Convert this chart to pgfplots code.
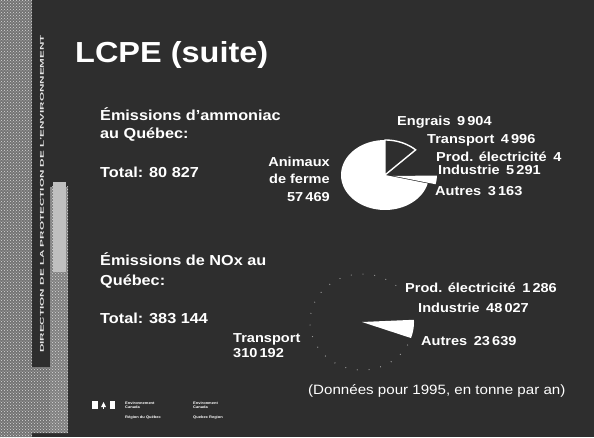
\documentclass[border=0pt]{standalone}
\usepackage{pgfplots}
\pgfplotsset{compat=1.18}
\usepackage{pgfplotstable}
\usepackage{fontspec}
\setmainfont{Liberation Sans}[FakeStretch=1.12]
\usetikzlibrary{patterns}
\definecolor{bg}{RGB}{46,46,46}

% Emissions d'ammoniac au Quebec (t/an, 1995)
\pgfplotstableread{
label value
Engrais 9904
Transport 4996
Prod 4
Industrie 5291
Autres 3163
Animaux 57469
}\ammoniac
% Emissions de NOx au Quebec (t/an, 1995)
\pgfplotstableread{
label value
Prod 1286
Industrie 48027
Autres 23639
Transport 310192
}\nox

% cumulative angles, clockwise from a start angle
\newcommand\computeangles[3]{%
  \xdef\tot{0}%
  \pgfplotstableforeachcolumnelement{value}\of#1\as\val{\xdef\tot{\fpeval{\tot+\val}}}%
  \xdef\cur{#2}%
  \pgfplotstableforeachcolumnelement{value}\of#1\as\val{%
    \xdef\nxt{\fpeval{round(\cur-360*\val/\tot,4)}}%
    \expandafter\xdef\csname #3s\pgfplotstablerow\endcsname{\cur}%
    \expandafter\xdef\csname #3e\pgfplotstablerow\endcsname{\nxt}%
    \xdef\cur{\nxt}}}
\computeangles{\ammoniac}{90}{A}
\computeangles{\nox}{49}{N}

% one wedge: prefix, row, style, explode
\newcommand\pieslice[4]{%
  \edef\sa{\csname #1s#2\endcsname}%
  \edef\se{\csname #1e#2\endcsname}%
  \edef\sm{\fpeval{(\sa+\se)/2}}%
  \edef\dx{\fpeval{round(#4*cosd(\sm),4)}}%
  \edef\dy{\fpeval{round(#4*sind(\sm),4)}}%
  \edef\temp{\noexpand\addplot[#3, domain=\se:\sa, samples=60]
    ({\dx+cos(x)},{\dy+sin(x)}) -- (axis cs:\dx,\dy) -- cycle;}%
  \temp}
\newcommand\piearc[3]{%
  \edef\sa{\csname #1s#2\endcsname}%
  \edef\se{\csname #1e#2\endcsname}%
  \edef\temp{\noexpand\addplot[#3, domain=\se:\sa, samples=80]
    ({cos(x)},{sin(x)});}%
  \temp}

\begin{document}
\begin{tikzpicture}
\fill[bg] (0pt,0pt) rectangle (594pt,437pt);
\useasboundingbox (0pt,0pt) rectangle (594pt,437pt);
% left textured strip
\fill[black!55] (0pt,0pt) rectangle (32pt,437pt);
\fill[pattern=crosshatch dots, pattern color=white!85!black] (0pt,0pt) rectangle (32pt,437pt);
\fill[black!55] (32pt,4pt) rectangle (50pt,70pt);
\fill[pattern=crosshatch dots, pattern color=white!85!black] (32pt,4pt) rectangle (50pt,70pt);
\fill[black!50] (50pt,4pt) rectangle (68pt,250pt);
\fill[pattern=crosshatch dots, pattern color=white!85!black] (50pt,4pt) rectangle (68pt,250pt);
\fill[white!75!black] (53pt,165pt) rectangle (66pt,255pt);
\node[rotate=90, inner sep=0pt, text=white!90!black] at (42pt,243pt)
  {\scalebox{1.9}[1]{\fontsize{5.5}{6}\selectfont\bfseries DIRECTION DE LA PROTECTION DE L'ENVIRONNEMENT}};

% title and texts
\node[anchor=base west, inner sep=0pt, text=white] at (75pt,374pt)
  {\fontsize{29}{34}\selectfont\bfseries LCPE (suite)};
\begin{scope}[every node/.style={anchor=base west, inner sep=0pt, text=white, font=\fontsize{14.5}{17}\selectfont\bfseries}]
\node at (100pt,316pt) {Émissions d'ammoniac};
\node at (100pt,298pt) {au Québec:};
\node at (100pt,259pt) {Total: 80~827};
\node at (100pt,172pt) {Émissions de NOx au};
\node at (100pt,152pt) {Québec:};
\node at (100pt,114pt) {Total: 383~144};
\end{scope}
\begin{scope}[every node/.style={anchor=base west, inner sep=0pt, text=white, font=\fontsize{13}{15}\selectfont\bfseries}]
\node at (397pt,311pt) {Engrais\enspace 9\,904};
\node at (427pt,293pt) {Transport\enspace 4\,996};
\node at (436pt,275pt) {Prod. électricité\enspace 4};
\node at (438pt,262pt) {Industrie\enspace 5\,291};
\node at (435pt,241pt) {Autres\enspace 3\,163};
\node[anchor=base east] at (330pt,270pt) {Animaux};
\node[anchor=base east] at (330pt,253pt) {de ferme};
\node[anchor=base east] at (330pt,236pt) {57\,469};
\node at (405pt,145pt) {Prod. électricité\enspace 1\,286};
\node at (418pt,125pt) {Industrie\enspace 48\,027};
\node at (421pt,92pt) {Autres\enspace 23\,639};
\node at (233pt,95pt) {Transport};
\node at (233pt,80pt) {310\,192};
\end{scope}
\node[anchor=base west, inner sep=0pt, text=white] at (308pt,43pt)
  {\fontsize{13.5}{16}\selectfont (Données pour 1995, en tonne par an)};

% logo
\fill[white] (92pt,28pt) rectangle (97.5pt,36pt);
\fill[white] (109.5pt,28pt) rectangle (115pt,36pt);
\fill[white] (101pt,30pt) -- (103.5pt,35pt) -- (106pt,30pt) -- cycle;
\fill[white] (103pt,28.5pt) rectangle (104pt,30pt);
\begin{scope}[every node/.style={anchor=base west, inner sep=0pt, text=white, font=\fontsize{3.6}{4}\selectfont\bfseries}]
\node at (125pt,33pt) {Environnement};
\node at (125pt,29pt) {Canada};
\node at (125pt,18.5pt) {Région du Québec};
\node at (193pt,33pt) {Environment};
\node at (193pt,29pt) {Canada};
\node at (193pt,18.5pt) {Quebec Region};
\end{scope}

% pie: ammoniac
\begin{axis}[hide axis, scale only axis, width=114.4pt, height=91pt,
  xmin=-1.3, xmax=1.3, ymin=-1.3, ymax=1.3,
  at={(385pt,262pt)}, anchor=origin, clip=false]
\pieslice{A}{5}{fill=white, draw=none}{0}
\pieslice{A}{4}{fill=white, draw=none}{0.18}
\pieslice{A}{3}{fill=bg, draw=none}{0}
\pieslice{A}{2}{fill=bg, draw=none}{0}
\pieslice{A}{1}{fill=bg, draw=none}{0}
\pieslice{A}{0}{fill=bg, draw=white, line width=1.4pt}{0}
\end{axis}

% pie: NOx
\begin{axis}[hide axis, scale only axis, width=135.2pt, height=124.8pt,
  xmin=-1.3, xmax=1.3, ymin=-1.3, ymax=1.3,
  at={(362pt,115pt)}, anchor=origin, clip=false]
\pieslice{N}{3}{fill=bg, draw=none}{0}
\piearc{N}{3}{draw=white!55!bg, line width=1pt, dash pattern=on 0.8pt off 11pt}
\pieslice{N}{0}{fill=bg, draw=none}{0}
\pieslice{N}{1}{fill=bg, draw=none}{0}
\pieslice{N}{2}{fill=white, draw=none}{0}
\end{axis}
\end{tikzpicture}
\end{document}
